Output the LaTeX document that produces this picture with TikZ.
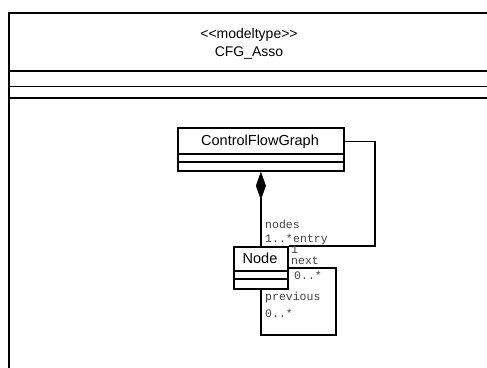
\documentclass[tikz,border=0pt]{standalone}
\usepackage{fontspec}
\setmainfont{Liberation Sans}
\setmonofont{Liberation Mono}
\usetikzlibrary{arrows.meta,calc}
\begin{document}
\begin{tikzpicture}[x=1pt,y=-1pt,
  classbox/.style={draw, line width=1.8pt, inner sep=0pt, anchor=north west},
  cname/.style={font=\fontsize{14.5}{16}\selectfont, inner sep=0pt},
  hdr/.style={font=\fontsize{14}{16}\selectfont, inner sep=0pt},
  lbl/.style={font=\fontsize{11.5}{12}\ttfamily, text=black!75, inner sep=0pt, anchor=west},
  conn/.style={line width=1.8pt}]
\useasboundingbox (0,0) rectangle (487,367);
\clip (0,0) rectangle (487,367);
% package frame
\node[classbox, minimum width=520pt, minimum height=420pt] (pkg) at (8,12) {};
\node[hdr] (stereo) at (249,35) {<{}<modeltype>{}>};
\node[hdr] (pkgname) at (249,53) {CFG\_Asso};
\draw[conn] ($(pkg.north west)+(0,59)$) -- ($(pkg.north east)+(0,59)$);
\draw[conn] ($(pkg.north west)+(0,74.5)$) -- ($(pkg.north east)+(0,74.5)$);
\draw[conn] ($(pkg.north west)+(0,86)$) -- ($(pkg.north east)+(0,86)$);
% ControlFlowGraph
\node[classbox, minimum width=166pt, minimum height=43pt] (cfg) at (177,127) {};
\node[cname] (cfgname) at (260,141.5) {ControlFlowGraph};
\draw[conn] ($(cfg.north west)+(0,27)$) -- ($(cfg.north east)+(0,27)$);
\draw[conn] ($(cfg.north west)+(0,35)$) -- ($(cfg.north east)+(0,35)$);
% Node
\node[classbox, minimum width=54pt, minimum height=42pt] (nd) at (233,246) {};
\node[cname] (ndname) at (260,258.5) {Node};
\draw[conn] ($(nd.north west)+(0,25)$) -- ($(nd.north east)+(0,25)$);
\draw[conn] ($(nd.north west)+(0,33)$) -- ($(nd.north east)+(0,33)$);
% composition
\draw[conn, -{Diamond[length=28pt,width=10pt,line width=0.5pt,fill=black]}] (nd.north) -- (cfg.south);
% entry association
\coordinate (e1) at (375,141.5);
\draw[conn] (cfg.east |- cfgname) -- (e1) |- (nd.north east);
% self association next/previous
\coordinate (s1) at (336,268);
\coordinate (s2) at (336,335);
\draw[conn] (nd.east |- s1) -- (s1) -- (s2) -| (nd.south);
% labels
\node[lbl] (lnodes) at (265,224) {nodes};
\node[lbl] (lmult1) at (265,238) {1..*};
\node[lbl] (lentry) at (293,240) {entry};
\node[lbl] (lone) at (291,250) {1};
\node[lbl] (lnext) at (291,260.5) {next};
\node[lbl] (lmult2) at (294,275) {0..*};
\node[lbl] (lprev) at (265,298) {previous};
\node[lbl] (lmult3) at (265,313) {0..*};
\end{tikzpicture}
\end{document}
